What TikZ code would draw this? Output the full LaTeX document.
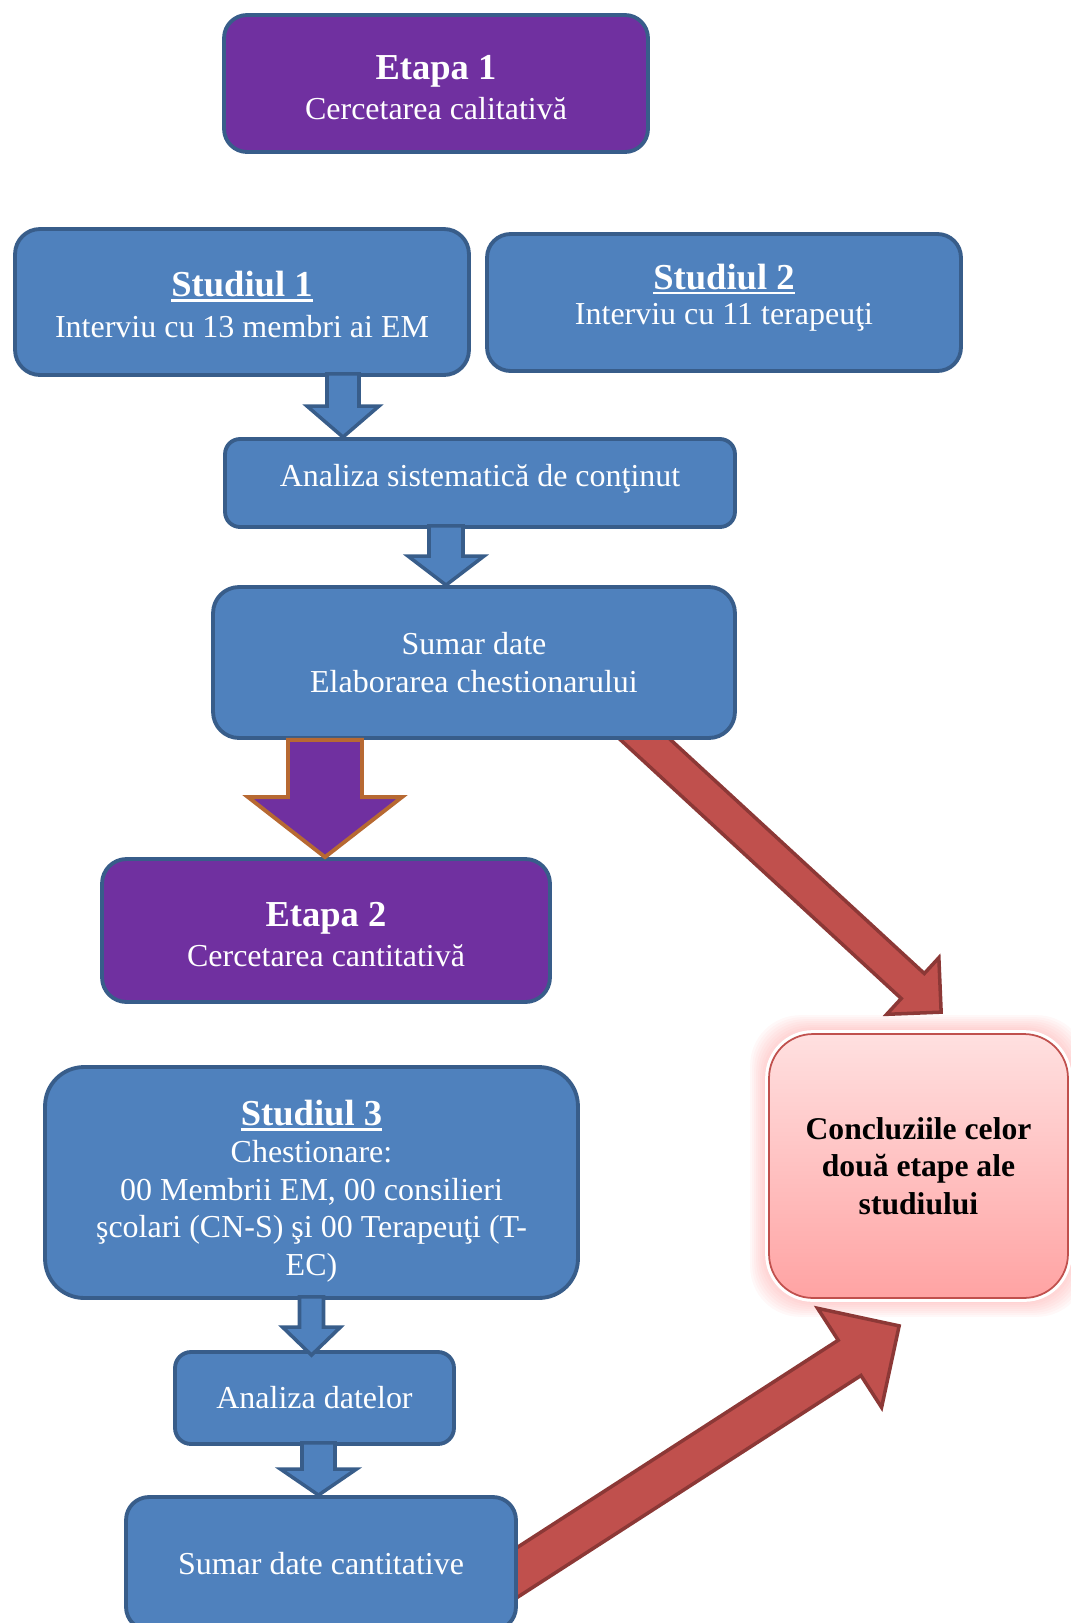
\documentclass[tikz,border=0pt]{standalone}
\usepackage{fontspec}
\setmainfont{Liberation Serif}
\usetikzlibrary{calc,backgrounds}

\definecolor{boxblue}{RGB}{79,129,189}
\definecolor{boxedge}{RGB}{56,93,138}
\definecolor{etapa}{RGB}{112,48,160}
\definecolor{arredge}{RGB}{183,105,50}
\definecolor{redfill}{RGB}{192,80,77}
\definecolor{rededge}{RGB}{140,56,54}
\definecolor{concTop}{RGB}{255,224,224}
\definecolor{concBot}{RGB}{255,163,163}

\newcommand{\pxu}{0.02cm}
\newcommand{\bodyfont}{\fontsize{18.2}{21.3}\selectfont}
\newcommand{\titlefont}{\fontsize{20.8}{23}\selectfont\bfseries}
\newcommand{\undl}[1]{\setbox0=\hbox{#1}\rlap{\rule[-3pt]{\wd0}{1.5pt}}\box0}
% struts to move a text block down (tall first line) or up (deep last line)
\newcommand{\tall}[1]{\rule{0pt}{#1}}
\newcommand{\deep}[1]{\rule[-#1]{0pt}{#1}}
% block arrow: [style]{from}{to}{shaft half}{head half}{head length}
\newcommand{\blockarr}[6][]{%
  \coordinate (ba-s) at #2;
  \coordinate (ba-t) at #3;
  \coordinate (ba-b) at ($(ba-t)!#6*\pxu!(ba-s)$);
  \filldraw[#1] ($(ba-s)!#4*\pxu!90:(ba-t)$)
    -- ($(ba-b)!#4*\pxu!90:(ba-t)$)
    -- ($(ba-b)!#5*\pxu!90:(ba-t)$)
    -- (ba-t)
    -- ($(ba-b)!#5*\pxu!-90:(ba-t)$)
    -- ($(ba-b)!#4*\pxu!-90:(ba-t)$)
    -- ($(ba-s)!#4*\pxu!-90:(ba-t)$) -- cycle;
}

\tikzset{
  bluebox/.style={draw=boxedge, fill=boxblue, line width=2.2pt, rounded corners=#1,
    inner sep=0pt, text=white, align=center, font=\bodyfont},
  purplebox/.style={bluebox=#1, fill=etapa},
  concbox/.style={draw=redfill, line width=1pt, top color=concTop, bottom color=concBot,
    rounded corners=#1, inner sep=0pt, text=black, align=center,
    font=\fontsize{18}{21.3}\selectfont\bfseries},
  bluearr/.style={draw=boxedge, fill=boxblue, line width=2pt},
  purplearr/.style={draw=arredge, fill=etapa, line width=2.2pt},
  redarr/.style={draw=rededge, fill=redfill, line width=2pt},
  glow/.style={fill=red!45, opacity=0.06, rounded corners=1cm}
}

\begin{document}
\begin{tikzpicture}[x=0.02cm, y=-0.02cm]
  \useasboundingbox (0,0) rectangle (1071,1623);
  \clip (0,0) rectangle (1071,1623);

  % ---- Etapa 1 ----
  \node[purplebox=0.46cm, minimum width=8.48cm, minimum height=2.74cm] (et1) at (436,83.5)
    {{\titlefont\tall{18.2pt}Etapa 1}\\[1.5pt] Cercetarea calitativă};
  \node[bluebox=0.5cm, minimum width=9.08cm, minimum height=2.92cm] (st1) at (242,302)
    {{\titlefont\tall{17.6pt}\undl{Studiul 1}}\\[2pt] Interviu cu 13 membri ai EM};
  \node[bluebox=0.47cm, minimum width=9.48cm, minimum height=2.74cm] (st2) at (724,302.5)
    {{\titlefont\undl{Studiul 2}}\\[-1pt] Interviu cu 11 terapeuţi\deep{9.3pt}};
  \node[bluebox=0.3cm, minimum width=10.2cm, minimum height=1.76cm] (ana) at (480,483)
    {Analiza sistematică de conţinut\deep{8.5pt}};
  \node[bluebox=0.52cm, minimum width=10.44cm, minimum height=3.02cm] (sum) at (474,662.5)
    {Sumar date\\ Elaborarea chestionarului};

  % ---- Etapa 2 ----
  \node[purplebox=0.49cm, minimum width=8.96cm, minimum height=2.86cm] (et2) at (326,930.5)
    {{\titlefont\tall{18.2pt}Etapa 2}\\[1.5pt] Cercetarea cantitativă};
  \node[bluebox=0.78cm, minimum width=10.66cm, minimum height=4.62cm] (st3) at (311.5,1182.5)
    {{\titlefont\tall{24pt}\undl{Studiul 3}}\\ Chestionare:\\ 00 Membrii EM, 00 consilieri\\
     şcolari (CN-S) şi 00 Terapeuţi (T-\\ EC)};
  \node[bluebox=0.32cm, minimum width=5.58cm, minimum height=1.84cm] (anad) at (314.5,1398)
    {Analiza datelor};
  \node[bluebox=0.46cm, minimum width=7.8cm, minimum height=2.66cm] (sdc) at (321,1563.5)
    {Sumar date cantitative};

  % ---- Concluzii ----
  \node[concbox=0.88cm, minimum width=5.98cm, minimum height=5.28cm] (concl) at (918.5,1166)
    {Concluziile celor\\ două etape ale\\ studiului};

  % ---- glow and red arrows behind the boxes ----
  \begin{scope}[on background layer]
    \clip (0,0) rectangle (1071,1623);
    \foreach \g in {18,16,...,4}
      \fill[glow] ($(concl.south west)+(-\g,\g)$) rectangle ($(concl.north east)+(\g,-\g)$);
    \fill[white, rounded corners=0.95cm] ($(concl.south west)+(-3,3)$) rectangle ($(concl.north east)+(3,-3)$);
    \blockarr[redarr]{($(sum.south east)+(-127,-33)$)}{($(concl.north west)+(173,-21)$)}{17}{38.5}{38.6}
    \blockarr[redarr]{($(sdc.east)+(-38,33)$)}{($(concl.south west)+(131,27)$)}{21}{59}{59}
  \end{scope}

  % ---- down arrows ----
  \blockarr[bluearr]{($(st1.south)+(101,-3)$)}{($(ana.north)+(-137,0)$)}{16}{36}{31}
  \blockarr[bluearr]{($(ana.south)+(-34,-3)$)}{($(sum.north)+(-28,0)$)}{17}{38}{29}
  \blockarr[purplearr]{($(sum.south)+(-149,0)$)}{($(et2.north)+(-1,0)$)}{37}{77}{60}
  \blockarr[bluearr]{($(st3.south)+(0,-3)$)}{($(anad.north)+(-3,5)$)}{12}{29}{28}
  \blockarr[bluearr]{($(anad.south)+(4,-3)$)}{($(sdc.north)+(-2.5,0)$)}{16.5}{38}{26}
\end{tikzpicture}
\end{document}
